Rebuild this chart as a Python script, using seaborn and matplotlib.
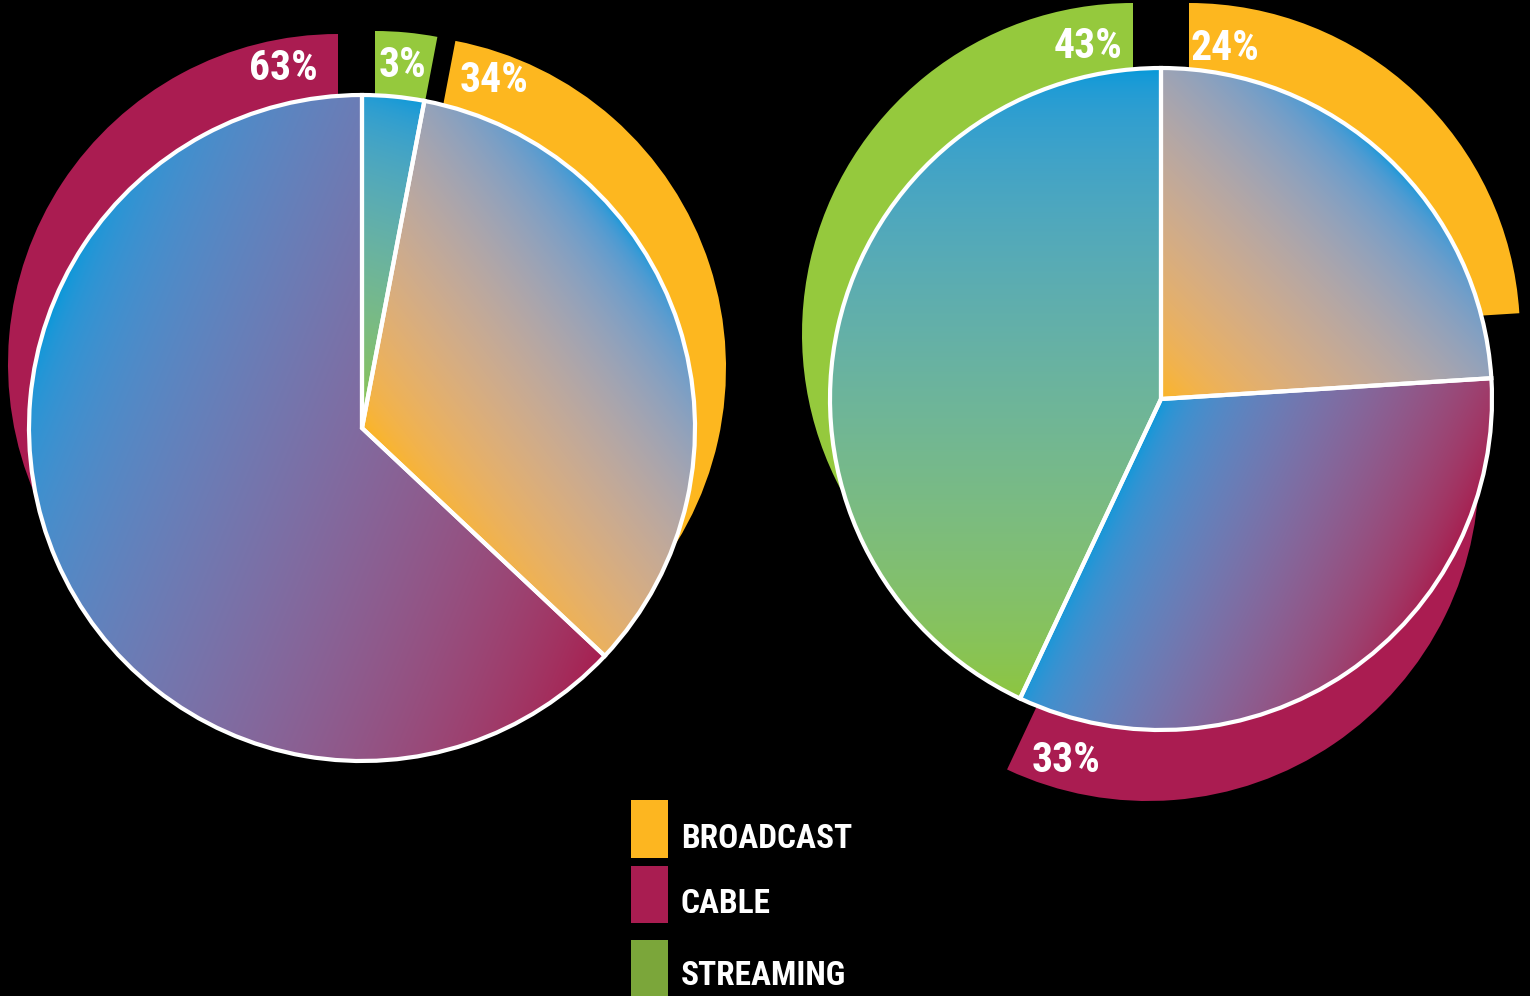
import numpy as np
import matplotlib
matplotlib.use("Agg")
import matplotlib.pyplot as plt
from matplotlib.patches import Rectangle
import seaborn as sns

# ---- data -------------------------------------------------------------
categories = ["BROADCAST", "CABLE", "STREAMING"]
share_left = [34, 63, 3]      # % of viewing, left pie
share_right = [24, 33, 43]    # % of viewing, right pie

# clockwise order of the slices starting at 12 o'clock
order_left = ["STREAMING", "BROADCAST", "CABLE"]
order_right = ["BROADCAST", "CABLE", "STREAMING"]

# ---- style ------------------------------------------------------------
W, H = 1530, 996
BLUE = "#0099DA"
ring_colors = {"BROADCAST": "#FDB71F", "CABLE": "#AA1C51", "STREAMING": "#95C93D"}
fill_colors = {"BROADCAST": "#FBB521", "CABLE": "#A71E50", "STREAMING": "#8DC63F"}
legend_colors = {"BROADCAST": "#FDB620", "CABLE": "#A91D51", "STREAMING": "#7BA63A"}

sns.set_theme(style="white", rc={"figure.facecolor": "black",
                                 "axes.facecolor": "black",
                                 "savefig.facecolor": "black"})
plt.rcParams["font.family"] = ["Liberation Sans Narrow", "Roboto Condensed",
                               "Noto Sans Condensed", "Open Sans Condensed",
                               "DejaVu Sans"]
TEXT = dict(fontweight="bold", fontstretch="condensed", color="white", zorder=5)

# layout in screen pixels (x right, y down)
pies = [
    dict(values=dict(zip(categories, share_left)), order=order_left,
         center=(362, 428), radius=333,
         ring={"STREAMING": (375, 364, 333), "BROADCAST": (393, 368, 333),
               "CABLE": (338, 364, 330)},
         grad={"STREAMING": (-0.3, 0.95), "BROADCAST": (-0.79, 0.61),
               "CABLE": (0.92, 0.38)},
         label={"STREAMING": (403, 77), "BROADCAST": (494, 92),
                "CABLE": (283, 80)}),
    dict(values=dict(zip(categories, share_right)), order=order_right,
         center=(1161, 399), radius=331,
         ring={"BROADCAST": (1189, 334, 331), "CABLE": (1148, 470, 331),
               "STREAMING": (1133, 334, 331)},
         grad={"BROADCAST": (-0.707, 0.707), "CABLE": (0.9, 0.436),
               "STREAMING": (0.0, 1.0)},
         label={"BROADCAST": (1225, 60), "CABLE": (1066, 772),
                "STREAMING": (1088, 58)}),
]


def scr(x, y):
    return (x, H - y)


def to_lin(c):
    c = np.asarray(matplotlib.colors.to_rgb(c))
    return np.where(c <= 0.04045, c / 12.92, ((c + 0.055) / 1.055) ** 2.4)


def to_srgb(c):
    c = np.clip(c, 0, 1)
    return np.where(c <= 0.0031308, c * 12.92, 1.055 * c ** (1 / 2.4) - 0.055)


def gradient_fill(ax, wedge, c_start, c_end, direction, gamma=0.85):
    cx, cy = wedge.center
    r = wedge.r
    th = np.radians(np.linspace(wedge.theta1, wedge.theta2, 400))
    pts = np.column_stack([np.r_[cx, cx + r * np.cos(th)],
                           np.r_[cy, cy + r * np.sin(th)]])
    u = np.array([direction[0], -direction[1]], dtype=float)
    u /= np.linalg.norm(u)
    proj = pts @ u
    p0, p1 = proj.min(), proj.max()
    x0, y0 = np.floor(pts.min(0)) - 4
    x1, y1 = np.ceil(pts.max(0)) + 4
    xs = np.arange(x0, x1) + 0.5
    ys = np.arange(y0, y1) + 0.5
    X, Y = np.meshgrid(xs, ys)
    t = np.clip((X * u[0] + Y * u[1] - p0) / (p1 - p0), 0, 1) ** gamma
    t = t[..., None]
    img = to_srgb((1 - t) * to_lin(c_start) + t * to_lin(c_end))
    im = ax.imshow(img, extent=(x0, x0 + len(xs), y0, y0 + len(ys)),
                   origin="lower", interpolation="bilinear", zorder=2)
    im.set_clip_path(wedge)


fig = plt.figure(figsize=(W / 100, H / 100), dpi=100)
ax = fig.add_axes([0, 0, 1, 1])
ax.set_facecolor("black")

for p in pies:
    vals = [p["values"][c] for c in p["order"]]

    # offset colour ring behind the pie
    ring, _ = ax.pie(vals, radius=1, center=(0, 0), startangle=90,
                     counterclock=False,
                     colors=[ring_colors[c] for c in p["order"]],
                     wedgeprops=dict(linewidth=0, zorder=1))
    for w, cat in zip(ring, p["order"]):
        x, y, r = p["ring"][cat]
        w.set_center(scr(x, y))
        w.set_radius(r)

    # gradient-filled pie with white outlines
    inner, _ = ax.pie(vals, radius=p["radius"], center=scr(*p["center"]),
                      startangle=90, counterclock=False,
                      wedgeprops=dict(facecolor="none", edgecolor="white",
                                      linewidth=3, zorder=3))
    for w, cat in zip(inner, p["order"]):
        gradient_fill(ax, w, BLUE, fill_colors[cat], p["grad"][cat])

    # percentage labels
    for cat in p["order"]:
        x, y = p["label"][cat]
        ax.text(*scr(x, y), f"{p['values'][cat]}%", ha="center", va="baseline",
                fontsize=30, **TEXT)

# legend
legend_rows = [(800, 858, 848), (866, 923, 913), (940, 998, 985)]
for cat, (top, bottom, base) in zip(categories, legend_rows):
    ax.add_patch(Rectangle(scr(631, bottom), 37, bottom - top,
                           facecolor=legend_colors[cat], edgecolor="none",
                           zorder=4))
    ax.text(*scr(681, base), cat, ha="left", va="baseline", fontsize=24, **TEXT)

ax.set_xlim(0, W)
ax.set_ylim(0, H)
ax.set_aspect("equal")
ax.axis("off")
fig.savefig("out.png", dpi=100, facecolor="black")
